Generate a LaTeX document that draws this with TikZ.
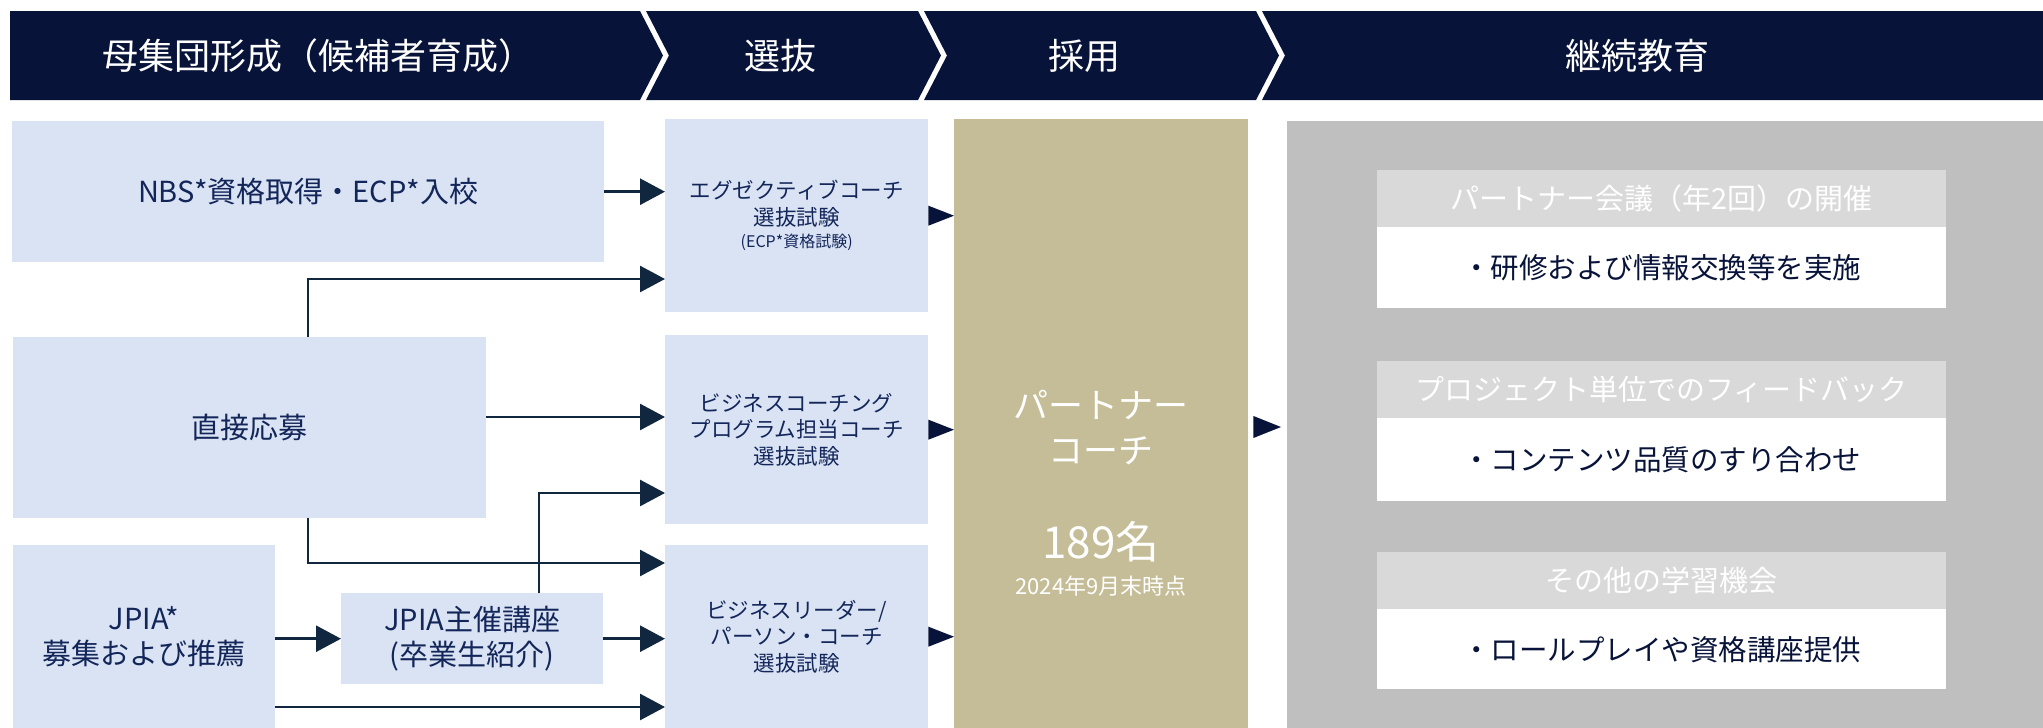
\documentclass[tikz,border=0pt]{standalone}
\usepackage{fontspec}
\setmainfont{Noto Sans CJK JP}
\usetikzlibrary{arrows.meta,calc}
\definecolor{hdr}{HTML}{081339}
\definecolor{lb}{HTML}{DAE3F3}
\definecolor{txt}{HTML}{13265A}
\definecolor{arr}{HTML}{11273F}
\definecolor{tanc}{HTML}{C4BD97}
\definecolor{gry}{HTML}{BFBFBF}
\definecolor{phd}{HTML}{D9D9D9}
\begin{document}
\begin{tikzpicture}[x=1pt,y=-1pt,
  box/.style={fill=lb, anchor=north west, inner sep=0pt, text=txt, align=center},
  bigtxt/.style={font=\fontsize{29}{35}\selectfont},
  seltxt/.style={font=\fontsize{21.5}{26.5}\selectfont},
  hdrtxt/.style={text=white, font=\fontsize{36}{40}\selectfont, inner sep=0pt},
  conn/.style={draw=arr, line width=2.7pt, -{Triangle[length=25pt,width=26pt]}},
  phead/.style={fill=phd, anchor=north west, inner sep=0pt, minimum width=569pt, minimum height=57pt, text=white, font=\fontsize{29}{34}\selectfont},
  pbody/.style={fill=white, anchor=north west, inner sep=0pt, minimum width=569pt, text=hdr, font=\fontsize{28.5}{34}\selectfont}
]
\useasboundingbox (0,0) rectangle (2043,728);
\fill[white] (0,0) rectangle (2043,728);

% header chevrons
\fill[hdr] (10,11) -- (640,11) -- (663,55.5) -- (640,100) -- (10,100) -- cycle;
\fill[hdr] (646,11) -- (918,11) -- (941,55.5) -- (918,100) -- (646,100) -- (669,55.5) -- cycle;
\fill[hdr] (924,11) -- (1256,11) -- (1279,55.5) -- (1256,100) -- (924,100) -- (947,55.5) -- cycle;
\fill[hdr] (1262,11) -- (2043,11) -- (2043,100) -- (1262,100) -- (1285,55.5) -- cycle;
\node[hdrtxt] (h1) at (318,55.5) {母集団形成（候補者育成）};
\node[hdrtxt] (h2) at (780,55.5) {選抜};
\node[hdrtxt] (h3) at (1084,55.5) {採用};
\node[hdrtxt] (h4) at (1637,55.5) {継続教育};

% left column
\node[box, bigtxt, minimum width=592pt, minimum height=141pt] (nbs) at (12,121) {NBS*資格取得・ECP*入校};
\node[box, bigtxt, minimum width=473pt, minimum height=181pt] (direct) at (13,337) {直接応募};
\node[box, bigtxt, minimum width=262pt, minimum height=183pt] (jpia) at (13,545) {JPIA*\\募集および推薦};
\node[box, bigtxt, minimum width=262pt, minimum height=91pt] (koza) at (341,593) {JPIA主催講座\\(卒業生紹介)};

% selection column
\node[box, seltxt, minimum width=263pt, minimum height=193pt] (sel1) at (665,119) {エグゼクティブコーチ\\選抜試験\\[-4pt]{\fontsize{16}{19}\selectfont (ECP*資格試験)}};
\node[box, seltxt, minimum width=263pt, minimum height=189pt] (sel2) at (665,335) {ビジネスコーチング\\プログラム担当コーチ\\選抜試験};
\node[box, seltxt, minimum width=263pt, minimum height=183pt] (sel3) at (665,545) {ビジネスリーダー/\\パーソン・コーチ\\選抜試験};

% partner coach
\node[fill=tanc, anchor=north west, inner sep=0pt, minimum width=294pt, minimum height=609pt] (tan) at (954,119) {};
\node[text=white, align=center, inner sep=0pt, font=\fontsize{35}{45}\selectfont] (tanlbl) at (1101,428) {パートナー\\コーチ};
\node[text=white, inner sep=0pt, font=\fontsize{44}{48}\selectfont] (tannum) at (1101,542) {189名};
\node[text=white, inner sep=0pt, font=\fontsize{22}{26}\selectfont] (tandate) at (1101,586) {2024年9月末時点};

% continuing education
\node[fill=gry, anchor=north west, inner sep=0pt, minimum width=756pt, minimum height=607pt] (gray) at (1287,121) {};
\node[phead] (p1h) at (1377,170) {パートナー会議（年2回）の開催};
\node[pbody, minimum height=81pt] (p1b) at (1377,227) {・研修および情報交換等を実施};
\node[phead] (p2h) at (1377,361) {プロジェクト単位でのフィードバック};
\node[pbody, minimum height=83pt] (p2b) at (1377,418) {・コンテンツ品質のすり合わせ};
\node[phead] (p3h) at (1377,552) {その他の学習機会};
\node[pbody, minimum height=80pt] (p3b) at (1377,609) {・ロールプレイや資格講座提供};

% connectors
\coordinate (c1) at (308,279);
\coordinate (c2) at (0,417);
\coordinate (c3) at (539,493);
\coordinate (c4) at (308,563);
\coordinate (c5) at (0,707);
\coordinate (c6) at (0,427);
\draw[conn] (nbs.east) -- (nbs.east -| sel1.west);
\draw[conn] (direct.north -| c1) -- (c1) -- (c1 -| sel1.west);
\draw[conn] (direct.east |- c2) -- (sel2.west |- c2);
\draw[conn] (koza.north -| c3) -- (c3) -- (c3 -| sel2.west);
\draw[conn] (direct.south -| c4) -- (c4) -- (c4 -| sel3.west);
\draw[conn] (jpia.east |- koza.west) -- (koza.west);
\draw[conn] (koza.east) -- (koza.east -| sel3.west);
\draw[conn] (jpia.east |- c5) -- (sel3.west |- c5);

% triangles into partner coach and continuing education
\fill[hdr] ($(sel1.east)+(0,-10)$) -- ($(sel1.east -| tan.west)$) -- ($(sel1.east)+(0,10)$) -- cycle;
\fill[hdr] ($(sel2.east)+(0,-10)$) -- ($(sel2.east -| tan.west)$) -- ($(sel2.east)+(0,10)$) -- cycle;
\fill[hdr] ($(sel3.east)+(0,-10)$) -- ($(sel3.east -| tan.west)$) -- ($(sel3.east)+(0,10)$) -- cycle;
\fill[hdr] ($(tan.east |- c6)+(5,-11)$) -- ($(gray.west |- c6)+(-6,0)$) -- ($(tan.east |- c6)+(5,11)$) -- cycle;
\end{tikzpicture}
\end{document}
